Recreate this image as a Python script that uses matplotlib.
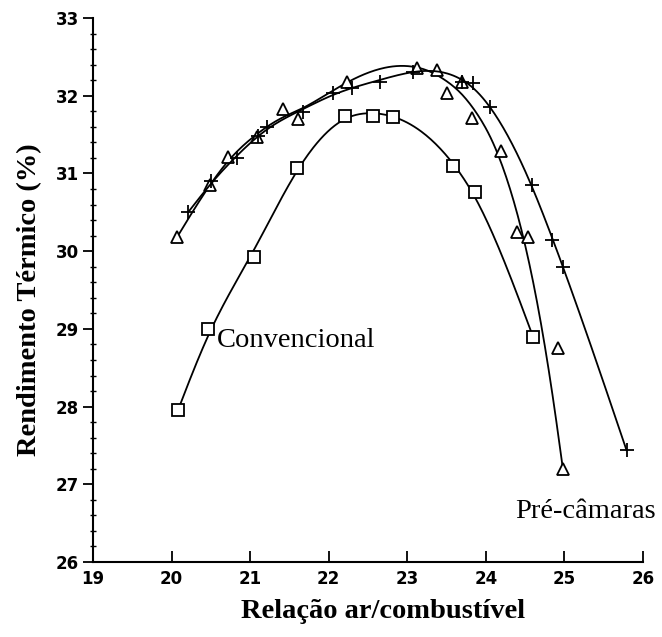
import numpy as np
import matplotlib.pyplot as plt
from matplotlib.ticker import MultipleLocator

# Convencional (squares)
conv_x = [20.08, 20.46, 21.05, 21.60, 22.21, 22.56, 22.82, 23.58, 23.86, 24.60]
conv_y = [27.95, 29.00, 29.93, 31.07, 31.74, 31.74, 31.73, 31.10, 30.76, 28.90]

# Pre-camaras, first configuration (triangles)
tri_x = [20.07, 20.49, 20.72, 21.09, 21.42, 21.61, 22.23, 23.12, 23.38, 23.50,
         23.69, 23.82, 24.19, 24.39, 24.53, 24.92, 24.98]
tri_y = [30.18, 30.85, 31.21, 31.47, 31.83, 31.70, 32.18, 32.36, 32.33, 32.04,
         32.18, 31.71, 31.29, 30.25, 30.18, 28.75, 27.20]

# Pre-camaras, second configuration (plus signs)
plus_x = [20.21, 20.50, 20.83, 21.10, 21.21, 21.67, 22.05, 22.30, 22.65, 23.07,
          23.69, 23.84, 24.05, 24.59, 24.84, 24.98, 25.79]
plus_y = [30.50, 30.90, 31.20, 31.48, 31.60, 31.79, 32.03, 32.10, 32.18, 32.30,
          32.18, 32.16, 31.85, 30.85, 30.15, 29.80, 27.44]

x_ticks = [19, 20, 21, 22, 23, 24, 25, 26]
y_ticks = [26, 27, 28, 29, 30, 31, 32, 33]


def smooth_curve(xs, ys, lam=1e-2):
    # penalised cubic regression spline (curvature penalty), ends held with weights
    xs = np.asarray(xs)
    ys = np.asarray(ys)
    knots = np.arange(xs.min() + 0.2, xs.max(), 0.2)

    def basis(x):
        u = x - 22
        cols = [np.ones_like(x), u, u ** 2, u ** 3]
        cols += [np.clip(x - k, 0, None) ** 3 for k in knots]
        return np.column_stack(cols)

    def basis_dd(x):
        u = x - 22
        cols = [np.zeros_like(x), np.zeros_like(x), 2 * np.ones_like(x), 6 * u]
        cols += [6 * np.clip(x - k, 0, None) for k in knots]
        return np.column_stack(cols)

    w = np.ones_like(xs)
    w[0] = w[-1] = 30
    grid = np.linspace(xs.min(), xs.max(), 200)
    dx = grid[1] - grid[0]
    A = np.vstack([basis(xs) * w[:, None], np.sqrt(lam * dx) * basis_dd(grid)])
    b = np.concatenate([ys * w, np.zeros_like(grid)])
    coef, *_ = np.linalg.lstsq(A, b, rcond=None)
    xx = np.linspace(xs.min(), xs.max(), 300)
    return xx, basis(xx) @ coef


fig = plt.figure(figsize=(6.62, 6.37), dpi=100)
ax = fig.add_axes([0.1405, 0.1177, 0.8308, 0.854])

serif = ['Liberation Serif', 'DejaVu Serif']

series = [
    (conv_x, conv_y, 's'),
    (tri_x, tri_y, '^'),
    (plus_x, plus_y, '+'),
]
for xs, ys, mk in series:
    xx, yy = smooth_curve(xs, ys)
    ax.plot(xx, yy, color='black', lw=1.3)
    ax.plot(xs, ys, linestyle='none', marker=mk, markersize=9 if mk != '+' else 10,
            markerfacecolor='white', markeredgecolor='black', markeredgewidth=1.3)

ax.set_xlim(19, 26)
ax.set_ylim(26, 33)
ax.set_xticks(x_ticks)
ax.set_yticks(y_ticks)
ax.yaxis.set_minor_locator(MultipleLocator(0.2))
ax.spines['top'].set_visible(False)
ax.spines['right'].set_visible(False)
ax.spines['left'].set_linewidth(1.5)
ax.spines['bottom'].set_linewidth(1.5)
ax.tick_params(axis='y', which='major', direction='out', length=7, width=1.3,
               labelsize=12, pad=3)
ax.tick_params(axis='y', which='minor', direction='inout', length=4, width=1)
ax.tick_params(axis='x', which='major', direction='in', length=8, width=1.3,
               labelsize=12, pad=6)
for lab in ax.get_xticklabels() + ax.get_yticklabels():
    lab.set_fontweight('bold')

ax.text(20.58, 28.85, 'Convencional', family=serif, fontsize=20.5, va='center', ha='left')
ax.text(24.37, 26.65, 'Pré-câmaras', family=serif, fontsize=20.5, va='center', ha='left')

fig.text(383 / 662, 1 - 612 / 637, 'Relação ar/combustível', family=serif,
         fontsize=20.5, fontweight='bold', ha='center', va='center')
fig.text(30 / 662, 1 - 300 / 637, 'Rendimento Térmico (%)', family=serif,
         fontsize=20.5, fontweight='bold', ha='center', va='center', rotation=90)

fig.savefig('out.png', dpi=100)
